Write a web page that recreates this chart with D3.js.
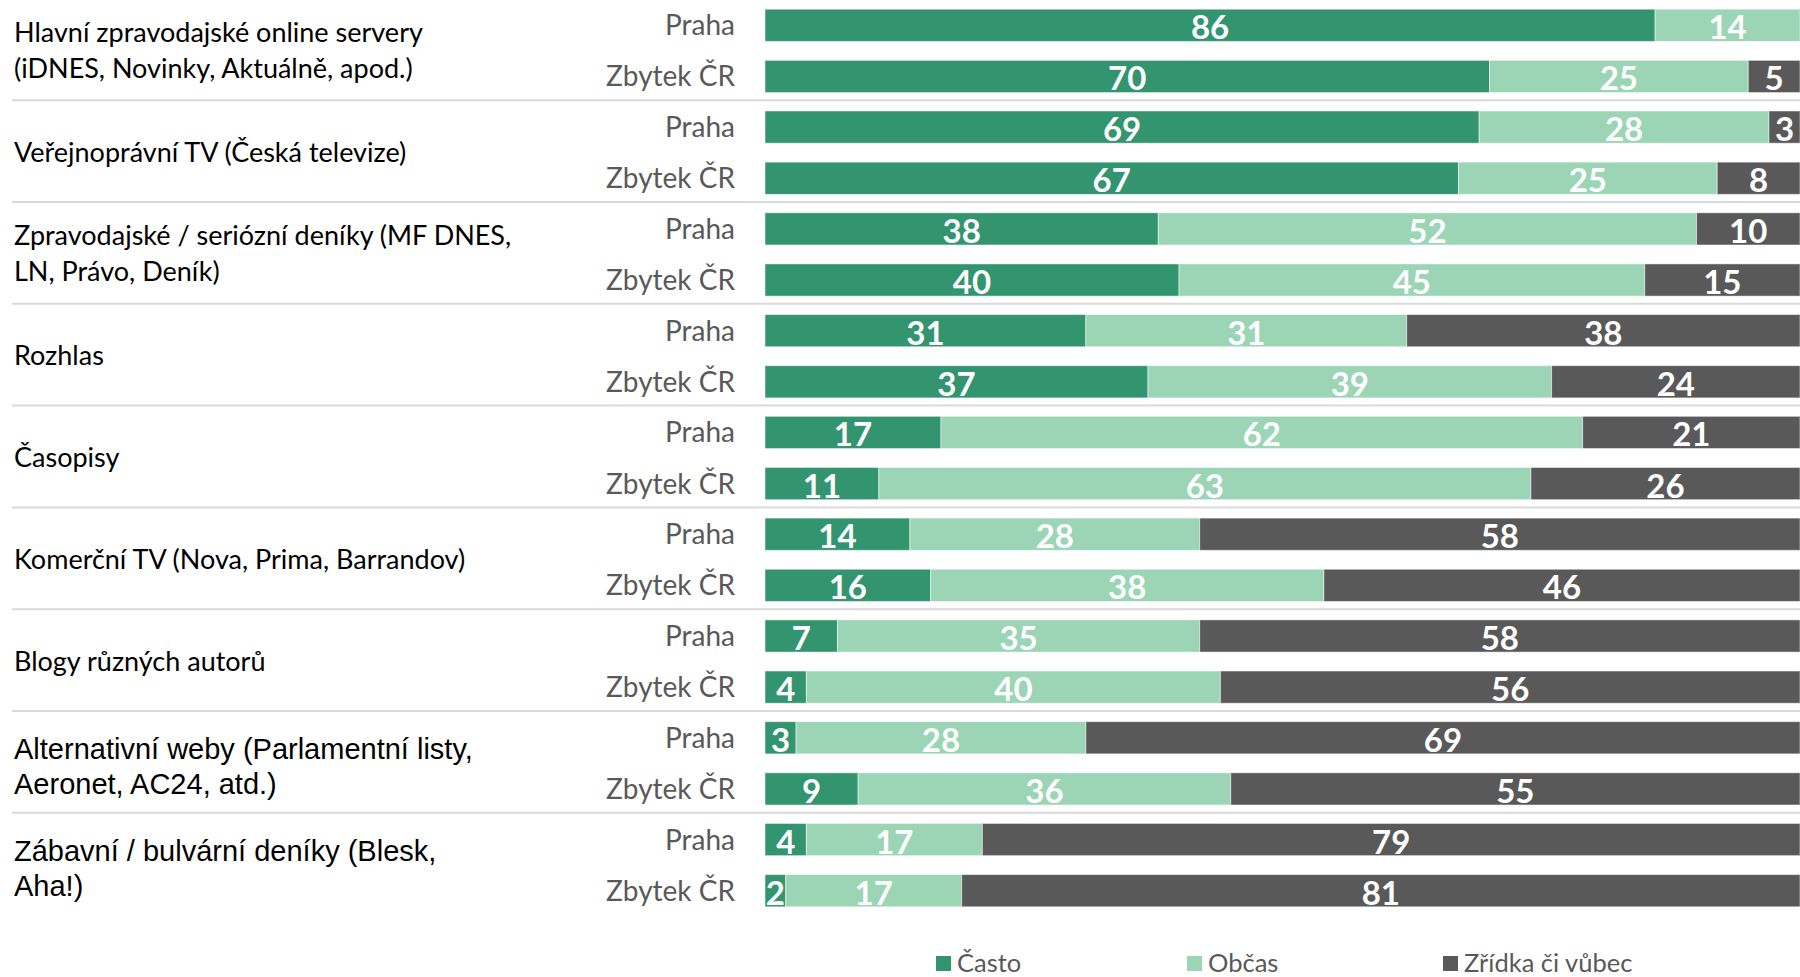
<!DOCTYPE html>
<html>
<head>
<meta charset="utf-8">
<script src="https://cdn.jsdelivr.net/npm/d3@7"></script>
<style>
  body { margin: 0; background: #fff; }
  svg { display: block; }
</style>
</head>
<body>
<figure id="chart" style="margin:0"></figure>
<script>
// categories (already split into lines as in the picture)
const categories = [
  ["Hlavní zpravodajské online servery", "(iDNES, Novinky, Aktuálně, apod.)"],
  ["Veřejnoprávní TV (Česká televize)"],
  ["Zpravodajské / seriózní deníky (MF DNES,", "LN, Právo, Deník)"],
  ["Rozhlas"],
  ["Časopisy"],
  ["Komerční TV (Nova, Prima, Barrandov)"],
  ["Blogy různých autorů"],
  ["Alternativní weby (Parlamentní listy,", "Aeronet, AC24, atd.)"],
  ["Zábavní / bulvární deníky (Blesk,", "Aha!)"]
];
// the last two labels are set in a different font in the original
const arialCats = [7, 8];

const regions = ["Praha", "Zbytek ČR"];
const seriesNames = ["Často", "Občas", "Zřídka či vůbec"];

const prahaValues = [
  [86, 14, 0],
  [69, 28, 3],
  [38, 52, 10],
  [31, 31, 38],
  [17, 62, 21],
  [14, 28, 58],
  [7, 35, 58],
  [3, 28, 69],
  [4, 17, 79]
];
const zbytekValues = [
  [70, 25, 5],
  [67, 25, 8],
  [40, 45, 15],
  [37, 39, 24],
  [11, 63, 26],
  [16, 38, 46],
  [4, 40, 56],
  [9, 36, 55],
  [2, 17, 81]
];

const colors = ["#339570", "#9bd5b5", "#595959"];

const width = 1800, height = 977;

const svg = d3.select("figure#chart")
  .append("svg")
  .attr("width", width)
  .attr("height", height);

// build rows from the arrays
const rows = [];
categories.forEach((c, i) => {
  [prahaValues[i], zbytekValues[i]].forEach((vals, r) => {
    let acc = 0;
    const segs = vals.map((v, k) => {
      const s = {key: seriesNames[k], k: k, x0: acc, x1: acc + v, v: v};
      acc += v;
      return s;
    });
    rows.push({cat: i, region: regions[r], segs: segs});
  });
});

const x = d3.scaleLinear().domain([0, 100]).range([765, 1800]);

const yGroup = d3.scaleBand()
  .domain(d3.range(categories.length))
  .range([0, 916]);

const yInner = d3.scaleBand()
  .domain(regions)
  .range([0, yGroup.bandwidth()])
  .paddingInner(0.37)
  .paddingOuter(0.18);

// separators between groups
svg.append("g")
  .selectAll("line")
  .data(d3.range(1, categories.length))
  .join("line")
    .attr("x1", 12)
    .attr("x2", width)
    .attr("y1", d => yGroup(d) - 1.5)
    .attr("y2", d => yGroup(d) - 1.5)
    .attr("stroke", "#d9d9d9")
    .attr("stroke-width", 2);

// category labels
const catG = svg.append("g");
categories.forEach((lines, i) => {
  const isArial = arialCats.includes(i);
  const cy = yGroup(i) + yInner("Praha") + (yInner("Zbytek ČR") + yInner.bandwidth() - yInner("Praha")) / 2 + (isArial ? 3 : -2);
  const lh = isArial ? 35 : 36;
  const t = catG.append("text")
    .attr("x", 14)
    .attr("y", cy - (lines.length - 1) * lh / 2)
    .attr("dominant-baseline", "central")
    .style("font-family", isArial ? "'Liberation Sans', Arial, sans-serif" : "Lato, sans-serif")
    .style("font-size", isArial ? "29px" : "27px")
    .style("fill", "#000");
  lines.forEach((l, j) => {
    t.append("tspan")
      .attr("x", 14)
      .attr("dy", j === 0 ? 0 : lh)
      .text(l);
  });
});

// row groups
const rowG = svg.append("g")
  .selectAll("g")
  .data(rows)
  .join("g")
    .attr("transform", d => `translate(0,${yGroup(d.cat) + yInner(d.region)})`);

rowG.append("text")
  .attr("x", 735)
  .attr("y", yInner.bandwidth() / 2 - 1)
  .attr("text-anchor", "end")
  .attr("dominant-baseline", "central")
  .style("font-family", "Lato, sans-serif")
  .style("font-size", "28px")
  .style("fill", "#595959")
  .text(d => d.region);

rowG.selectAll("rect")
  .data(d => d.segs.filter(s => s.v > 0))
  .join("rect")
    .attr("x", s => x(s.x0))
    .attr("width", s => x(s.x1) - x(s.x0))
    .attr("y", 0)
    .attr("height", yInner.bandwidth())
    .attr("fill", s => colors[s.k])
    .attr("stroke", "#ffffff")
    .attr("stroke-opacity", 0.5)
    .attr("stroke-width", 1);

rowG.selectAll("text.val")
  .data(d => d.segs.filter(s => s.v > 0))
  .join("text")
    .attr("class", "val")
    .attr("x", s => (x(s.x0) + x(s.x1)) / 2)
    .attr("y", yInner.bandwidth() / 2 + 1)
    .attr("text-anchor", "middle")
    .attr("dominant-baseline", "central")
    .style("font-family", "Lato, sans-serif")
    .style("font-weight", "bold")
    .style("font-size", "33px")
    .style("fill", "#fff")
    .text(s => s.v);

// legend
const legendX = [936, 1187, 1443];
const legend = svg.append("g")
  .selectAll("g")
  .data(seriesNames)
  .join("g")
    .attr("transform", (d, i) => `translate(${legendX[i]},962)`);

legend.append("rect")
  .attr("x", 0)
  .attr("y", -6)
  .attr("width", 15)
  .attr("height", 15)
  .attr("fill", (d, i) => colors[i]);

legend.append("text")
  .attr("x", 21)
  .attr("y", 0)
  .attr("dominant-baseline", "central")
  .style("font-family", "Lato, sans-serif")
  .style("font-size", "25.5px")
  .style("fill", "#595959")
  .text(d => d);
</script>
</body>
</html>
